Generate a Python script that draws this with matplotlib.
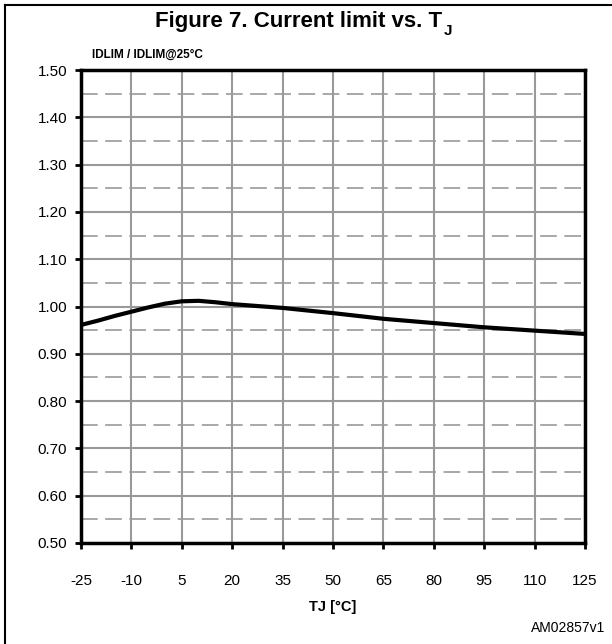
import matplotlib
matplotlib.use('Agg')
import matplotlib.pyplot as plt
from matplotlib.lines import Line2D
from matplotlib.ticker import MultipleLocator

# Courbe
temperature = [-25, -20, -15, -10, -5, 0, 5, 10, 15, 20, 35, 50, 65, 80, 95, 110, 125]
idlim_ratio = [0.961, 0.970, 0.980, 0.989, 0.998, 1.006, 1.011, 1.012, 1.009, 1.005,
               0.997, 0.986, 0.974, 0.965, 0.956, 0.949, 0.942]

x_ticks = [-25, -10, 5, 20, 35, 50, 65, 80, 95, 110, 125]
y_ticks = [0.50, 0.60, 0.70, 0.80, 0.90, 1.00, 1.10, 1.20, 1.30, 1.40, 1.50]

plt.rcParams['font.family'] = ['Liberation Sans', 'DejaVu Sans']

fig = plt.figure(figsize=(6.12, 6.44), dpi=100)
ax = fig.add_axes([81 / 612, 1 - 543 / 644, 504 / 612, 473 / 644])

ax.plot(temperature, idlim_ratio, color='black', linewidth=3, solid_capstyle='butt', zorder=5)

ax.set_xlim(-25, 125)
ax.set_ylim(0.5, 1.5)
ax.set_xticks(x_ticks)
ax.set_yticks(y_ticks)
ax.set_xticklabels([str(t) for t in x_ticks], fontsize=11)
ax.set_yticklabels(['%.2f' % v for v in y_ticks], fontsize=11)
ax.yaxis.set_minor_locator(MultipleLocator(0.05))
ax.tick_params(axis='both', which='major', direction='out', length=4, width=2, color='black', pad=6)
ax.tick_params(axis='y', which='minor', length=0)
ax.tick_params(axis='x', pad=18)

ax.grid(which='major', color='#999999', linewidth=1.5, linestyle='-')
ax.grid(which='minor', axis='y', color='#999999', linewidth=1.2, linestyle=(0, (10, 4.5)))
ax.set_axisbelow(True)
for sp in ax.spines.values():
    sp.set_linewidth(2.5)
    sp.set_color('black')

# Titres
titre = fig.text(299 / 612, 1 - 22 / 644, 'Figure 7. Current limit vs. T', ha='center', va='center',
                 fontsize=16, fontweight='bold')
ax.annotate('J', xy=(1, 0.05), xycoords=titre, xytext=(1, 0), textcoords='offset points',
            ha='left', va='center', fontsize=11, fontweight='bold', annotation_clip=False)
fig.text(92 / 612, 1 - 55 / 644, 'IDLIM / IDLIM@25°C', ha='left', va='center',
         fontsize=8.5, fontweight='bold')
fig.text(333 / 612, 1 - 607 / 644, 'TJ [°C]', ha='center', va='center',
         fontsize=10.5, fontweight='bold')
fig.text(605 / 612, 1 - 628 / 644, 'AM02857v1', ha='right', va='center', fontsize=10)

# Cadre
fig.add_artist(Line2D([5 / 612, 1], [1 - 5 / 644, 1 - 5 / 644], color='black', linewidth=1.5))
fig.add_artist(Line2D([5 / 612, 5 / 612], [1 - 5 / 644, 0], color='black', linewidth=1.5))

fig.savefig('out.png', dpi=100)
